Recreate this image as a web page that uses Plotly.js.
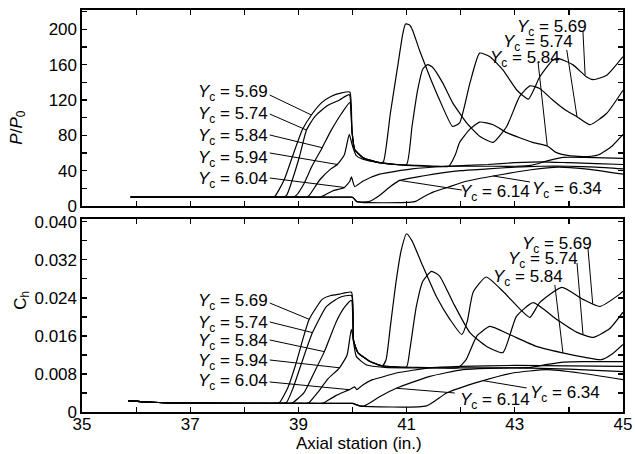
<!DOCTYPE html>
<html>
<head>
<meta charset="utf-8">
<script src="https://cdn.plot.ly/plotly-3.0.1.min.js"></script>
<style>html,body{margin:0;padding:0;background:#fff;}#chart{width:635px;height:454px;}</style>
</head>
<body>
<div id="chart"></div>
<script>
// ---------- DATA: P/P0 (top panel) ----------
var xP569 = [35.9, 38.4, 38.55, 38.74, 38.89, 39.07, 39.24, 39.43, 39.6, 39.8, 39.95, 39.99, 40.04, 40.19, 40.35, 40.5, 40.57, 40.7, 40.84, 40.93, 40.98, 41.05, 41.11, 41.24, 41.43, 41.61, 41.85, 41.98, 42.17, 42.35, 42.54, 42.78, 43.04, 43.25, 43.46, 43.7, 43.8, 44.07, 44.33, 44.45, 44.7, 45.0];
var yP569 = [10, 10, 10, 30, 56, 86, 103, 117, 124, 128, 129, 85, 64, 55, 51, 49, 50, 105, 160, 195, 206, 205, 199, 176, 146, 120, 90, 94, 139, 173, 169, 154, 131, 121, 146, 165, 167, 160, 146, 143, 148, 169];

var xP574 = [35.9, 38.55, 38.7, 38.78, 38.89, 39.02, 39.15, 39.3, 39.52, 39.76, 39.94, 39.99, 40.04, 40.19, 40.5, 40.8, 41.0, 41.1, 41.2, 41.3, 41.39, 41.48, 41.67, 41.85, 42.11, 42.35, 42.6, 42.85, 43.09, 43.28, 43.46, 43.7, 43.95, 44.15, 44.39, 44.7, 45.0];
var yP574 = [10, 10, 10, 12, 30, 56, 86, 101, 113, 120, 126, 85, 64, 55, 49, 47, 47, 90, 130, 155, 160, 157, 139, 117, 94, 79, 72, 90, 124, 136, 133, 120, 108, 101, 92, 105, 131];

var xP584 = [35.9, 38.75, 38.9, 38.96, 39.1, 39.25, 39.44, 39.6, 39.8, 39.95, 39.99, 40.04, 40.19, 40.5, 40.8, 41.2, 41.5, 41.78, 41.9, 41.98, 42.17, 42.35, 42.6, 42.85, 43.1, 43.33, 43.6, 43.75, 44.0, 44.35, 44.55, 44.8, 45.0];
var yP584 = [10, 10, 10, 12, 25, 45, 66, 85, 105, 117, 85, 64, 55, 49, 47, 46, 45, 45, 58, 72, 87, 95, 92, 83, 77, 72, 68, 61, 57, 56, 58, 68, 81];

var xP594 = [35.9, 39.0, 39.15, 39.2, 39.4, 39.6, 39.72, 39.85, 39.94, 40.0, 40.07, 40.19, 40.5, 41.0, 41.5, 42.0, 42.5, 43.0, 43.3, 43.6, 43.9, 44.3, 45.0];
var yP594 = [10, 10, 10, 12, 30, 42, 47, 58, 81, 68, 57, 53, 49, 46, 45, 45, 45, 45, 46, 51, 55, 55, 54];

var xP604 = [35.9, 39.25, 39.4, 39.44, 39.63, 39.85, 39.95, 39.98, 40.04, 40.19, 40.5, 41.1, 41.74, 42.5, 43.0, 43.5, 44.0, 44.5, 45.0];
var yP604 = [10, 10, 10, 11, 17, 21, 28, 33, 22, 28, 36, 42, 45, 47, 49, 50, 49, 48, 47];

var xP614 = [35.9, 39.9, 40.0, 40.08, 40.3, 40.5, 40.7, 40.87, 41.2, 41.5, 42.0, 42.5, 43.0, 43.5, 44.0, 44.5, 45.0];
var yP614 = [10, 10, 10, 5, 5, 12, 22, 29, 33, 36, 40, 42, 44, 45, 45, 44, 42];

var xP634 = [35.9, 39.9, 40.0, 40.08, 41.15, 41.3, 41.5, 41.75, 42.1, 42.6, 43.3, 43.8, 44.3, 45.0];
var yP634 = [10, 10, 10, 5, 5, 10, 16, 21, 28, 34, 41, 44, 42, 36];

// ---------- DATA: Ch (bottom panel) ----------
var xC569 = [35.85, 36.2, 36.6, 38.4, 38.55, 38.65, 38.8, 38.95, 39.1, 39.2, 39.44, 39.6, 39.76, 39.98, 40.02, 40.1, 40.3, 40.55, 40.62, 40.7, 40.8, 40.9, 41.0, 41.1, 41.3, 41.55, 41.8, 42.02, 42.12, 42.23, 42.47, 42.78, 43.1, 43.28, 43.46, 43.87, 44.26, 44.57, 44.94, 45.0];
var yC569 = [0.0024, 0.0021, 0.0019, 0.0018, 0.0018, 0.002, 0.005, 0.010, 0.016, 0.0195, 0.0237, 0.0245, 0.0248, 0.0252, 0.0150, 0.0125, 0.0108, 0.0097, 0.011, 0.018, 0.027, 0.034, 0.0375, 0.036, 0.0307, 0.0243, 0.0195, 0.0163, 0.019, 0.0252, 0.0284, 0.0254, 0.0216, 0.0199, 0.023, 0.0262, 0.0237, 0.0222, 0.0248, 0.0254];

var xC574 = [35.85, 36.2, 36.6, 38.55, 38.7, 38.78, 38.9, 39.05, 39.26, 39.52, 39.76, 39.98, 40.02, 40.1, 40.3, 40.55, 40.8, 41.0, 41.06, 41.18, 41.3, 41.46, 41.61, 41.86, 42.17, 42.48, 42.78, 43.03, 43.34, 43.77, 44.14, 44.45, 44.75, 45.0];
var yC574 = [0.0024, 0.0021, 0.0019, 0.0018, 0.0018, 0.002, 0.005, 0.010, 0.0167, 0.0222, 0.0241, 0.0245, 0.0150, 0.0125, 0.0108, 0.0097, 0.0095, 0.0095, 0.0131, 0.0222, 0.0275, 0.0296, 0.0286, 0.023, 0.0167, 0.0138, 0.0125, 0.0201, 0.023, 0.0195, 0.0168, 0.0157, 0.0175, 0.021];

var xC584 = [35.85, 36.2, 36.6, 38.7, 38.85, 38.9, 39.1, 39.3, 39.48, 39.7, 39.85, 39.98, 40.02, 40.1, 40.3, 40.55, 40.8, 41.2, 41.6, 41.95, 42.1, 42.3, 42.54, 42.9, 43.4, 43.86, 44.3, 44.6, 44.8, 45.0];
var yC584 = [0.0024, 0.0021, 0.0019, 0.0018, 0.0018, 0.002, 0.004, 0.0085, 0.0127, 0.019, 0.022, 0.0235, 0.015, 0.0125, 0.0108, 0.0097, 0.0095, 0.0094, 0.0093, 0.0093, 0.011, 0.016, 0.018, 0.0163, 0.0138, 0.0125, 0.0115, 0.011, 0.0122, 0.0142];

var xC594 = [35.85, 36.2, 36.6, 39.0, 39.15, 39.2, 39.35, 39.55, 39.76, 39.9, 39.98, 40.07, 40.26, 40.6, 41.0, 41.5, 42.0, 42.5, 43.0, 43.3, 43.6, 43.9, 44.3, 45.0];
var yC594 = [0.0024, 0.0021, 0.0019, 0.0018, 0.0018, 0.002, 0.004, 0.007, 0.0093, 0.012, 0.0174, 0.0117, 0.0099, 0.0094, 0.0093, 0.0093, 0.0093, 0.0093, 0.0093, 0.0094, 0.0100, 0.0105, 0.0106, 0.0106];

var xC604 = [35.85, 36.2, 36.6, 39.3, 39.44, 39.48, 39.7, 39.94, 40.04, 40.08, 40.19, 40.37, 40.5, 40.81, 41.43, 42.0, 43.0, 44.0, 45.0];
var yC604 = [0.0024, 0.0021, 0.0019, 0.0018, 0.0018, 0.002, 0.0035, 0.0047, 0.0053, 0.0047, 0.0057, 0.0068, 0.0072, 0.0082, 0.0093, 0.0096, 0.0098, 0.0097, 0.0096];

var xC614 = [35.85, 36.2, 36.6, 39.9, 40.0, 40.13, 40.22, 40.5, 40.81, 41.43, 42.04, 43.0, 44.0, 45.0];
var yC614 = [0.0024, 0.0021, 0.0019, 0.0018, 0.0018, 0.0013, 0.0013, 0.0032, 0.005, 0.0075, 0.0089, 0.0093, 0.009, 0.0085];

var xC634 = [35.85, 36.2, 36.6, 39.9, 40.0, 40.13, 41.37, 41.74, 42.35, 42.96, 43.59, 44.2, 45.0];
var yC634 = [0.0024, 0.0021, 0.0019, 0.0018, 0.0018, 0.0013, 0.0013, 0.004, 0.0064, 0.0082, 0.0089, 0.0082, 0.0068];

// ---------- TICKS / LABELS ----------
var xTickVals = [35, 37, 39, 41, 43, 45];
var xTickText = ['35', '37', '39', '41', '43', '45'];
var pTickVals = [0, 40, 80, 120, 160, 200];
var pTickText = ['0', '40', '80', '120', '160', '200'];
var cTickVals = [0, 0.008, 0.016, 0.024, 0.032, 0.040];
var cTickText = ['0', '0.008', '0.016', '0.024', '0.032', '0.040'];
var ycLabels = ['5.69', '5.74', '5.84', '5.94', '6.04', '6.14', '6.34'];

// ---------- BUILD ----------
var topSeries = [[xP569, yP569], [xP574, yP574], [xP584, yP584], [xP594, yP594], [xP604, yP604], [xP614, yP614], [xP634, yP634]];
var botSeries = [[xC569, yC569], [xC574, yC574], [xC584, yC584], [xC594, yC594], [xC604, yC604], [xC614, yC614], [xC634, yC634]];
var lineStyle = {color: '#000', width: 1.2, shape: 'spline', smoothing: 0.5};
var traces = [];
topSeries.forEach(function (s, i) {
  traces.push({x: s[0], y: s[1], xaxis: 'x', yaxis: 'y', mode: 'lines', line: lineStyle, name: 'Yc=' + ycLabels[i], hoverinfo: 'skip'});
});
botSeries.forEach(function (s, i) {
  traces.push({x: s[0], y: s[1], xaxis: 'x2', yaxis: 'y2', mode: 'lines', line: lineStyle, name: 'Yc=' + ycLabels[i], hoverinfo: 'skip'});
});

var FONT = {family: 'Liberation Sans, Arial, Helvetica, sans-serif', size: 17, color: '#000'};
// pixel -> paper helpers (plot area: x 82.3..623, y 10..412)
function PX(px) { return (px - 82.3) / 540.7; }
function PY(py) { return (412 - py) / 402; }
function lab(k) { return '<i>Y</i><sub>c</sub> = ' + ycLabels[k]; }

var annotations = [];
function addLabel(k, rightPx, midPy) {
  annotations.push({xref: 'paper', yref: 'paper', x: PX(rightPx), y: PY(midPy), xanchor: 'right', yanchor: 'middle',
    text: lab(k), showarrow: false, font: FONT, yshift: -3, borderpad: 0});
}
// top panel labels
addLabel(0, 269, 90); addLabel(1, 269, 112); addLabel(2, 269, 134); addLabel(3, 269, 156); addLabel(4, 269, 177.5);
addLabel(0, 588, 25); addLabel(1, 574, 40); addLabel(2, 561, 56);
addLabel(5, 531, 190); addLabel(6, 603, 187);
// bottom panel labels
addLabel(0, 269, 299); addLabel(1, 269, 321); addLabel(2, 269, 339); addLabel(3, 269, 359); addLabel(4, 269, 379);
addLabel(0, 593, 242); addLabel(1, 579, 257); addLabel(2, 564, 275);
addLabel(5, 531, 398); addLabel(6, 601, 391);

// axis titles
annotations.push({xref: 'paper', yref: 'paper', x: PX(18), y: PY(128), xanchor: 'center', yanchor: 'middle', textangle: -90,
  text: '<i>P</i>/<i>P</i><sub>0</sub>', showarrow: false, font: FONT});
annotations.push({xref: 'paper', yref: 'paper', x: PX(22), y: PY(300), xanchor: 'center', yanchor: 'middle', textangle: -90,
  text: 'C<sub>h</sub>', showarrow: false, font: FONT});
annotations.push({xref: 'paper', yref: 'paper', x: PX(359), y: PY(443), xanchor: 'center', yanchor: 'middle',
  text: 'Axial station (in.)', showarrow: false, font: FONT});

// leader lines: [x0, y0 (label end), x1, y1 (on curve)]
var leadersTop = [
  [38.47, 125.6, 39.24, 103], [38.47, 104.1, 39.15, 86], [38.47, 80.4, 39.44, 66], [38.47, 60.0, 39.72, 47], [38.47, 31.7, 39.85, 21],
  [44.26, 197, 44.3, 148], [43.96, 176.6, 44.15, 101], [43.43, 163, 43.6, 68],
  [42.02, 18.1, 40.87, 29], [43.28, 27.2, 42.6, 34]
];
var leadersBot = [
  [38.47, 0.02293, 39.2, 0.0195], [38.47, 0.01894, 39.26, 0.0167], [38.47, 0.01515, 39.48, 0.0127], [38.47, 0.01094, 39.76, 0.0093], [38.47, 0.00631, 39.94, 0.0047],
  [44.35, 0.03472, 44.44, 0.0228], [44.15, 0.03135, 44.26, 0.0164], [43.74, 0.02672, 43.89, 0.0124],
  [41.89, 0.0040, 40.81, 0.005], [43.22, 0.00505, 42.41, 0.0066]
];
var shapes = [];
leadersTop.forEach(function (l) { shapes.push({type: 'line', xref: 'x', yref: 'y', x0: l[0], y0: l[1], x1: l[2], y1: l[3], line: {color: '#000', width: 1}}); });
leadersBot.forEach(function (l) { shapes.push({type: 'line', xref: 'x2', yref: 'y2', x0: l[0], y0: l[1], x1: l[2], y1: l[3], line: {color: '#000', width: 1}}); });

var axBase = {showline: true, linecolor: '#000', linewidth: 1.6, mirror: 'ticks', ticks: 'inside', ticklen: 5, tickwidth: 1.2,
  tickcolor: '#000', showgrid: false, zeroline: false, tickfont: FONT, tickmode: 'array', fixedrange: true};
function minor(d) { return {tickmode: 'linear', tick0: 0, dtick: d, ticks: 'inside', ticklen: 5, tickwidth: 1.2, tickcolor: '#000', showgrid: false}; }

var layout = {
  width: 635, height: 454,
  margin: {l: 82, r: 12, t: 10, b: 42},
  paper_bgcolor: '#fff', plot_bgcolor: '#fff',
  showlegend: false,
  font: FONT,
  xaxis: Object.assign({}, axBase, {domain: [0, 1], anchor: 'y', range: [35, 45], tickvals: xTickVals, ticktext: xTickText, showticklabels: false, minor: minor(1)}),
  yaxis: Object.assign({}, axBase, {domain: [0.5124, 1], anchor: 'x', range: [0, 221.8], tickvals: pTickVals, ticktext: pTickText, minor: minor(20)}),
  xaxis2: Object.assign({}, axBase, {domain: [0, 1], anchor: 'y2', range: [35, 45], tickvals: xTickVals, ticktext: xTickText, minor: minor(1), ticklabelstandoff: -4}),
  yaxis2: Object.assign({}, axBase, {domain: [0, 0.4801], anchor: 'x2', range: [0, 0.0406], tickvals: cTickVals, ticktext: cTickText, minor: minor(0.004)}),
  annotations: annotations,
  shapes: shapes
};

Plotly.newPlot('chart', traces, layout, {staticPlot: true, displayModeBar: false});
</script>
</body>
</html>
